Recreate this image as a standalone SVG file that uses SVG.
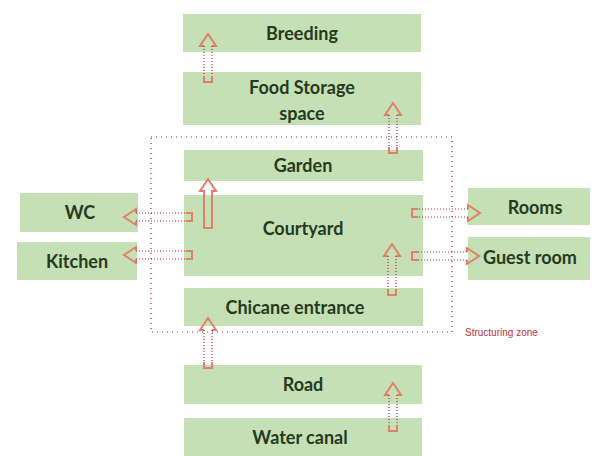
<svg xmlns="http://www.w3.org/2000/svg" width="602" height="456" viewBox="0 0 602 456">
<style>
.box{fill:#c5e0b4}
.t{font-family:Lato,"Open Sans",sans-serif;font-size:18px;font-weight:700;fill:#263a22;text-anchor:middle}
.head{fill:none;stroke:#e0806a;stroke-width:2;stroke-linejoin:miter}
.shaft{fill:none;stroke:#b02a3a;stroke-width:1.2;stroke-dasharray:1 2}
.zone{fill:none;stroke:#a0203a;stroke-width:1.2;stroke-dasharray:1 4}
.zl{font-family:"Liberation Sans",sans-serif;font-size:10px;fill:#c03040}
</style>
<rect width="602" height="456" fill="#fff"/>
<g id="zone"><rect class="zone" x="151" y="137" width="301" height="195"/><text class="zl" x="465" y="336">Structuring zone</text></g>
<g id="breeding"><rect class="box" x="183" y="14" width="238" height="38"/><text class="t" x="302" y="40">Breeding</text></g>
<g id="food"><rect class="box" x="183" y="72" width="238" height="53"/><text class="t" x="302" y="94">Food Storage</text><text class="t" x="302" y="120">space</text></g>
<g id="garden"><rect class="box" x="184" y="150" width="239" height="31"/><text class="t" x="303" y="172">Garden</text></g>
<g id="courtyard"><rect class="box" x="184" y="195" width="239" height="81"/><text class="t" x="303" y="235">Courtyard</text></g>
<g id="wc"><rect class="box" x="20" y="193" width="118" height="39"/><text class="t" x="80" y="219">WC</text></g>
<g id="kitchen"><rect class="box" x="17" y="242" width="120" height="38"/><text class="t" x="77" y="268">Kitchen</text></g>
<g id="rooms"><rect class="box" x="468" y="188" width="122" height="37"/><text class="t" x="535" y="214">Rooms</text></g>
<g id="guest"><rect class="box" x="468" y="237" width="122" height="43"/><text class="t" x="530" y="264">Guest room</text></g>
<g id="chicane"><rect class="box" x="184" y="288" width="239" height="38"/><text class="t" x="295" y="314">Chicane entrance</text></g>
<g id="road"><rect class="box" x="184" y="365" width="238" height="39"/><text class="t" x="303" y="391">Road</text></g>
<g id="canal"><rect class="box" x="184" y="418" width="238" height="38"/><text class="t" x="300" y="444">Water canal</text></g>
<g id="connectors">
<g transform="translate(208,34)"><path class="head" d="M-4,12 L-8,12 L0,0 L8,12 L4,12"/><path class="shaft" d="M-4,12 V48 M4,12 V48"/><path class="head" d="M-4,42 V48 H4 V42"/></g>
<g transform="translate(393,103)"><path class="head" d="M-4,12 L-8,12 L0,0 L8,12 L4,12"/><path class="shaft" d="M-4,12 V50 M4,12 V50"/><path class="head" d="M-4,44 V50 H4 V44"/></g>
<g transform="translate(208,179)"><path class="head" d="M-4,12 L-8,12 L0,0 L8,12 L4,12 V49 H-4 Z"/></g>
<g transform="translate(392,244)"><path class="head" d="M-4,12 L-8,12 L0,0 L8,12 L4,12"/><path class="shaft" d="M-4,12 V51 M4,12 V51"/><path class="head" d="M-4,45 V51 H4 V45"/></g>
<g transform="translate(208,318)"><path class="head" d="M-4,12 L-8,12 L0,0 L8,12 L4,12"/><path class="shaft" d="M-4,12 V50 M4,12 V50"/><path class="head" d="M-4,44 V50 H4 V44"/></g>
<g transform="translate(393,383)"><path class="head" d="M-4,12 L-8,12 L0,0 L8,12 L4,12"/><path class="shaft" d="M-4,12 V48 M4,12 V48"/><path class="head" d="M-4,42 V48 H4 V42"/></g>
<g transform="translate(124,217)"><path class="head" d="M12,-4 L12,-8 L0,0 L12,8 L12,4"/><path class="shaft" d="M12,-4 H68 M12,4 H68"/><path class="head" d="M62,-4 H68 V4 H62"/></g>
<g transform="translate(124,255)"><path class="head" d="M12,-4 L12,-8 L0,0 L12,8 L12,4"/><path class="shaft" d="M12,-4 H68 M12,4 H68"/><path class="head" d="M62,-4 H68 V4 H62"/></g>
<g transform="translate(480,213)"><path class="head" d="M-12,-4 L-12,-8 L0,0 L-12,8 L-12,4"/><path class="shaft" d="M-12,-4 H-68 M-12,4 H-68"/><path class="head" d="M-62,-4 H-68 V4 H-62"/></g>
<g transform="translate(479,256)"><path class="head" d="M-12,-4 L-12,-8 L0,0 L-12,8 L-12,4"/><path class="shaft" d="M-12,-4 H-67 M-12,4 H-67"/><path class="head" d="M-61,-4 H-67 V4 H-61"/></g>
</g>
</svg>
